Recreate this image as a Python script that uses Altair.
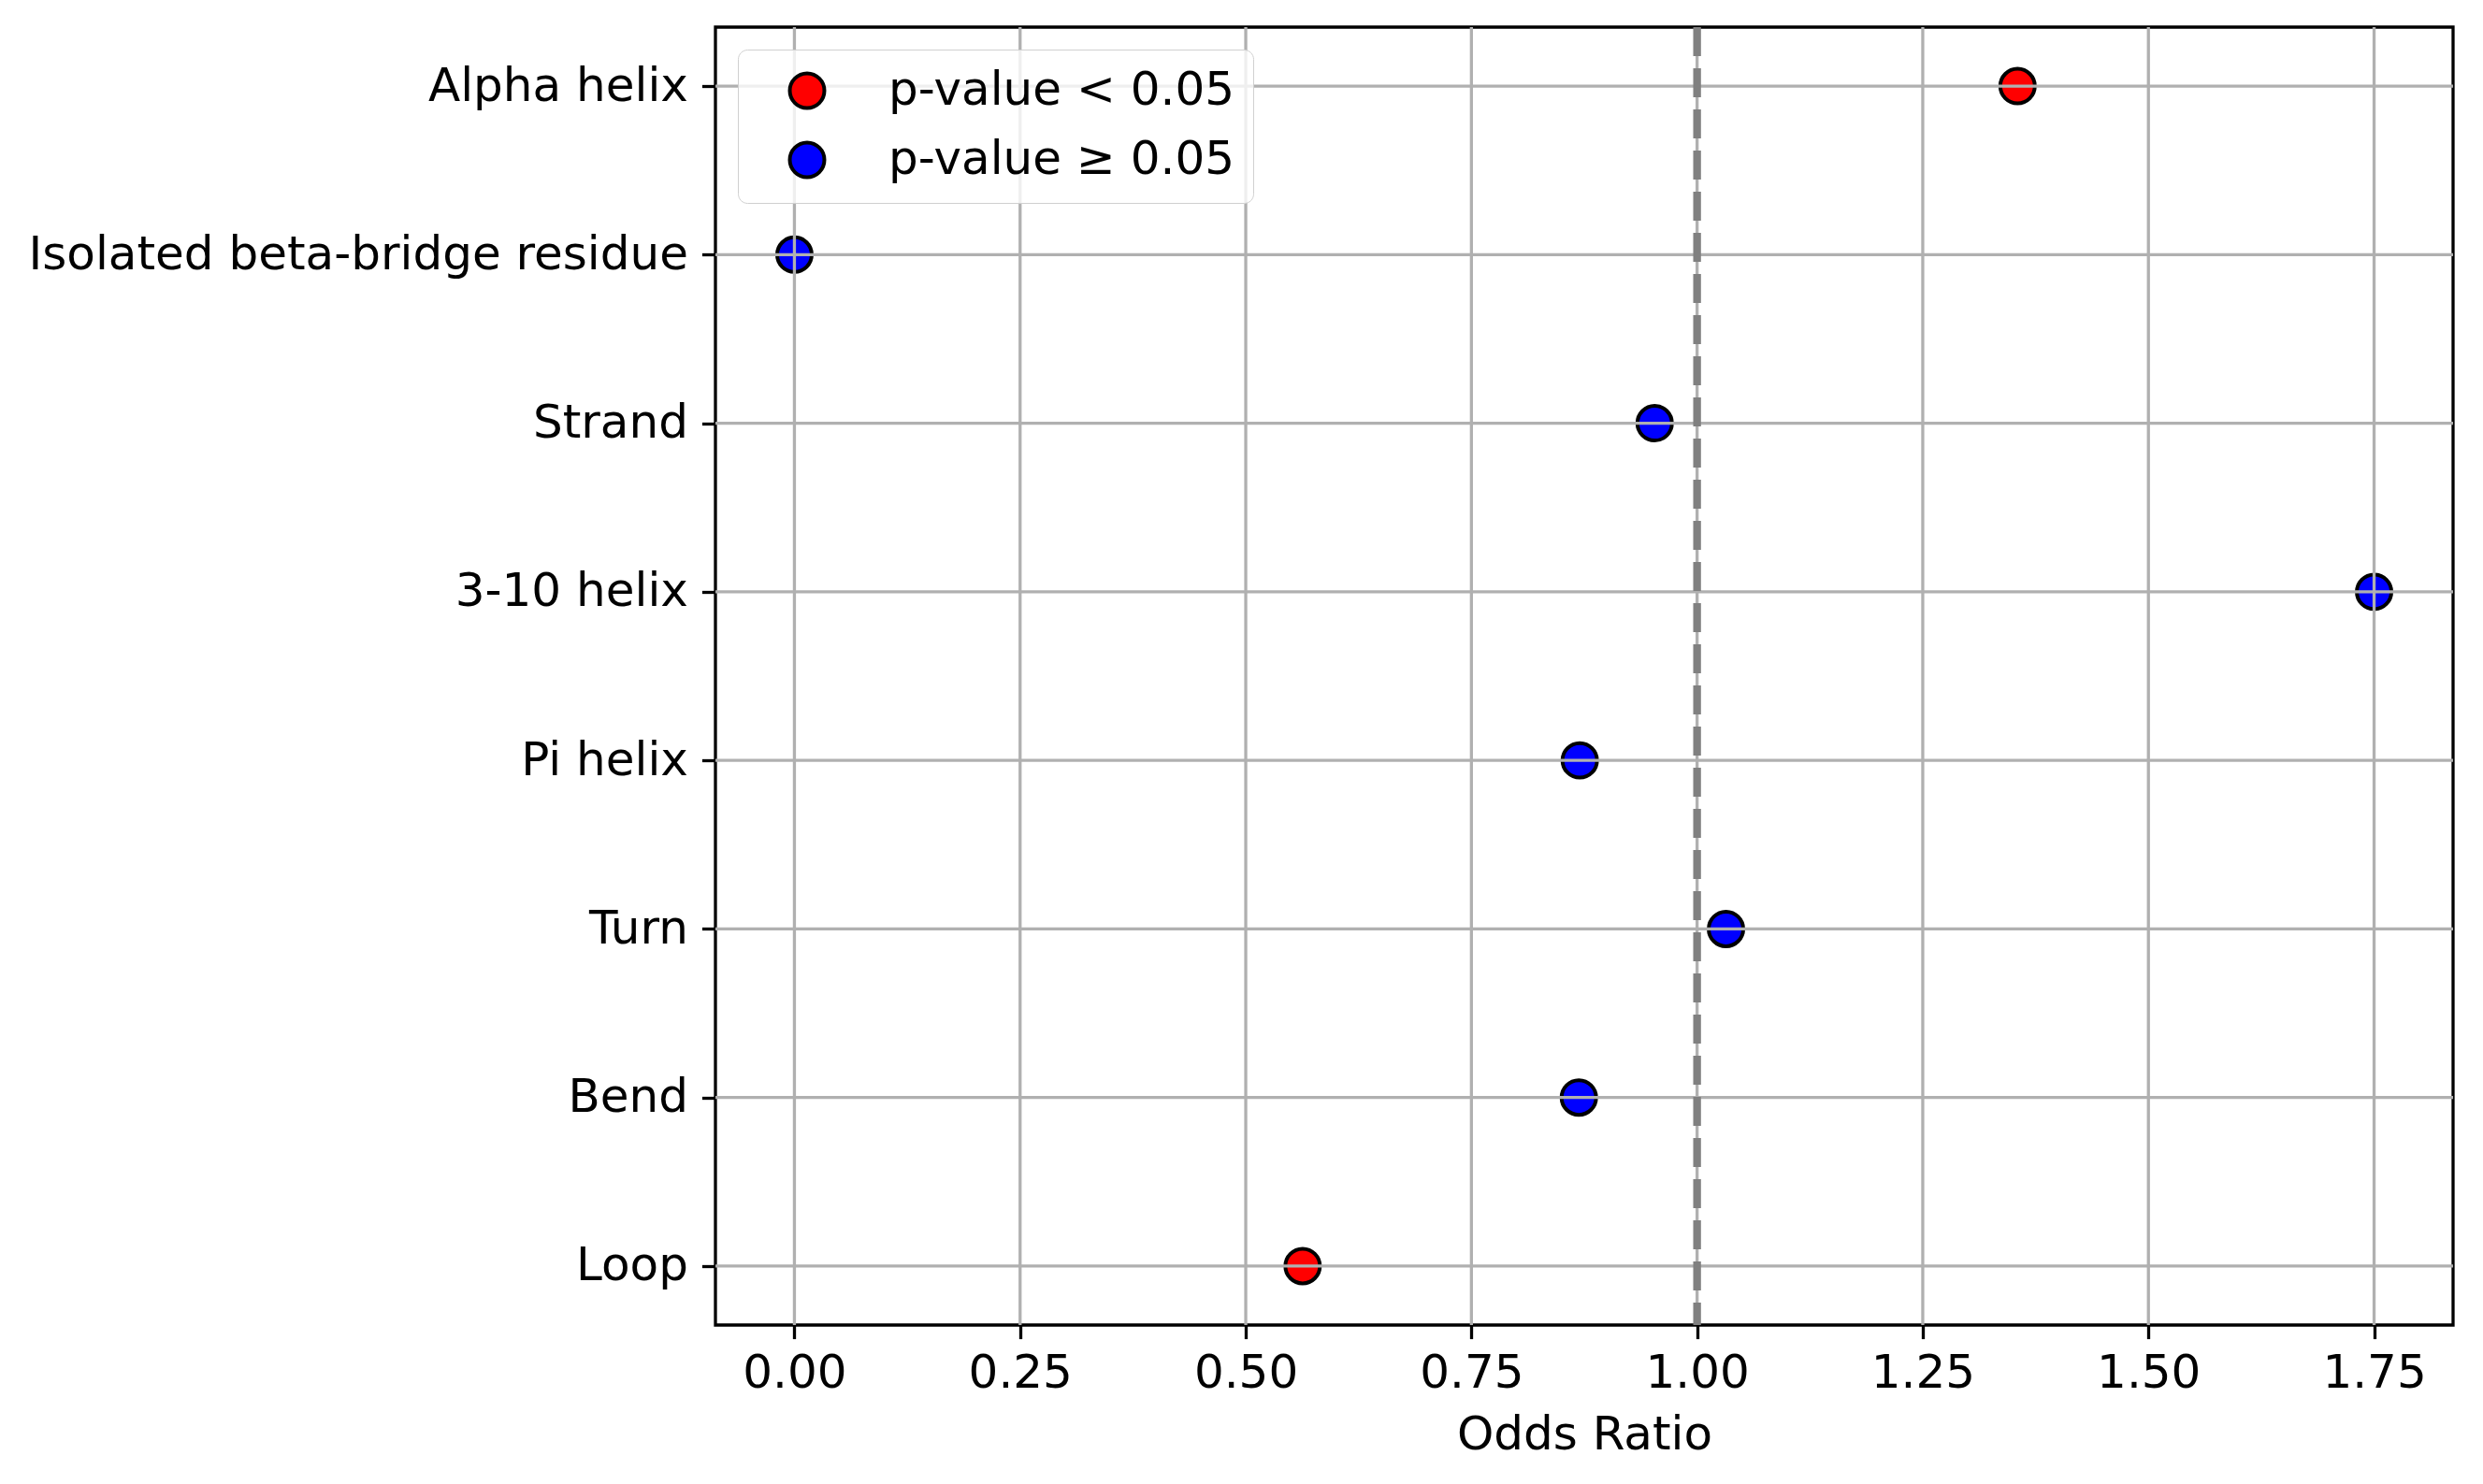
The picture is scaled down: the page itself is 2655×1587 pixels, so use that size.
import altair as alt
import pandas as pd

categories = ["Alpha helix", "Isolated beta-bridge residue", "Strand", "3-10 helix",
              "Pi helix", "Turn", "Bend", "Loop"]
odds_ratio = [1.355, 0.0, 0.953, 1.750, 0.870, 1.032, 0.869, 0.563]
significance = ["p-value < 0.05", "p-value ≥ 0.05", "p-value ≥ 0.05", "p-value ≥ 0.05",
                "p-value ≥ 0.05", "p-value ≥ 0.05", "p-value ≥ 0.05", "p-value < 0.05"]
x_ticks = [0.0, 0.25, 0.5, 0.75, 1.0, 1.25, 1.5, 1.75]
reference_value = [1.0]
legend_labels = ["p-value < 0.05", "p-value ≥ 0.05"]
legend_colors = ["#ff0000", "#0000ff"]

FONT = "DejaVu Sans"

df = pd.DataFrame({
    "cat": categories,
    "idx": list(range(len(categories))),
    "odds": odds_ratio,
    "sig": significance,
})
xt = pd.DataFrame({"odds": x_ticks})
yt = pd.DataFrame({"idx": list(range(len(categories)))})
ref = pd.DataFrame({"odds": reference_value})

label_array = "[" + ",".join("'" + c + "'" for c in categories) + "]"

x_scale = alt.Scale(domain=[-0.0875, 1.8375], nice=False, zero=False)
y_scale = alt.Scale(domain=[-0.35, len(categories) - 1 + 0.35], nice=False, zero=False, reverse=True)

x_axis = alt.Axis(values=x_ticks, format=".2f", title="Odds Ratio", grid=False, domain=False,
                  labelFontSize=50, labelFont=FONT, labelColor="black",
                  tickColor="black", tickSize=14.6, tickWidth=3.3, labelPadding=12,
                  titleFont=FONT, titleFontSize=50, titleFontWeight="normal",
                  titleColor="black", titlePadding=16, labelFlush=False)
y_axis = alt.Axis(values=list(range(len(categories))), labelExpr=label_array + "[datum.value]",
                  title=None, grid=False, domain=False,
                  labelFontSize=50, labelFont=FONT, labelColor="black",
                  tickColor="black", tickSize=14.6, tickWidth=3.3, labelPadding=15,
                  labelLimit=2000, labelFlush=False)

points = alt.Chart(df).mark_point(
    shape="circle", filled=True, size=1366, stroke="black", strokeWidth=4, opacity=1
).encode(
    x=alt.X("odds:Q", scale=x_scale, axis=x_axis),
    y=alt.Y("idx:Q", scale=y_scale, axis=y_axis),
    fill=alt.Fill("sig:N", scale=alt.Scale(domain=legend_labels, range=legend_colors),
                  legend=alt.Legend(
                      title=None, orient="none", legendX=24, legendY=24,
                      labelFont=FONT, labelFontSize=50, labelColor="black", labelLimit=2000,
                      symbolType="circle", symbolSize=1366, symbolStrokeColor="black",
                      symbolStrokeWidth=4, symbolOpacity=1,
                      padding=19, rowPadding=20, symbolOffset=30, labelOffset=62,
                      fillColor="rgba(255,255,255,0.8)", strokeColor="#d0d0d0",
                      cornerRadius=10, zindex=2)),
)

vgrid = alt.Chart(xt).mark_rule(color="#b0b0b0", strokeWidth=3.3).encode(
    x=alt.X("odds:Q", scale=x_scale, axis=x_axis)
)
hgrid = alt.Chart(yt).mark_rule(color="#b0b0b0", strokeWidth=3.3).encode(
    y=alt.Y("idx:Q", scale=y_scale, axis=y_axis)
)
refline = alt.Chart(ref).mark_rule(color="#808080", strokeWidth=8.3, strokeDash=[31, 13]).encode(
    x=alt.X("odds:Q", scale=x_scale, axis=x_axis)
)

chart = alt.layer(points, vgrid, hgrid, refline).properties(
    width=1858, height=1388,
    background="white",
    autosize=alt.AutoSizeParams(type="none"),
    padding={"left": 757, "top": 21, "right": 20, "bottom": 150},
).configure_view(
    stroke="black", strokeWidth=3.3
)

chart.save("out.html", embed_options={"renderer": "svg", "actions": False})
